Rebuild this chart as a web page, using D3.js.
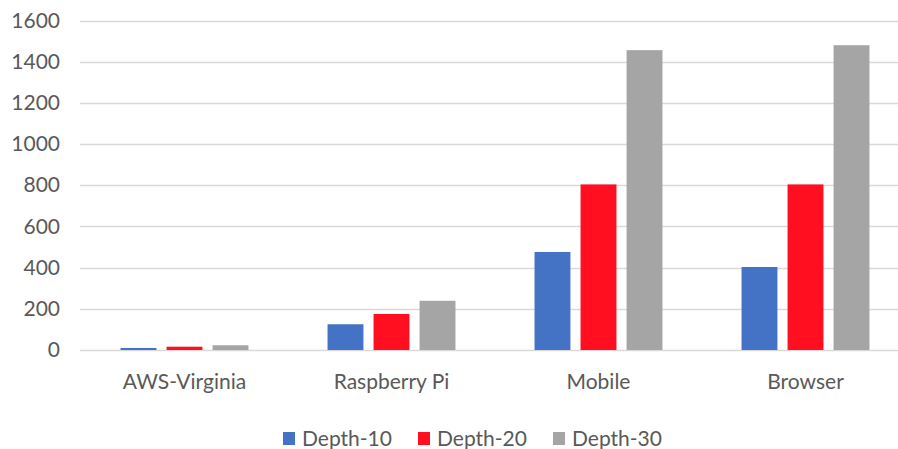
<!DOCTYPE html>
<html>
<head>
<meta charset="utf-8">
<script src="https://cdn.jsdelivr.net/npm/d3@7"></script>
<style>
  body { margin: 0; background: #fff; }
  svg { display: block; font-family: Lato, "Open Sans", sans-serif; }
</style>
</head>
<body>
<div id="chart"></div>
<script>
// data
var categories = ["AWS-Virginia", "Raspberry Pi", "Mobile", "Browser"];
var seriesNames = ["Depth-10", "Depth-20", "Depth-30"];
var depth10 = [10, 125, 476, 403];
var depth20 = [16, 175, 804, 804];
var depth30 = [23, 239, 1456, 1480];
var yTicks = [0, 200, 400, 600, 800, 1000, 1200, 1400, 1600];
var colors = ["#4472C4", "#FF0F1F", "#A5A5A5"];

var W = 898, H = 449;
var seriesValues = [depth10, depth20, depth30];

var svg = d3.select("#chart").append("svg")
    .attr("width", W)
    .attr("height", H);

// scales
var x0 = d3.scaleBand().domain(categories).range([81, 909])
    .paddingInner(0.382).paddingOuter(0.191);
var x1 = d3.scaleBand().domain(seriesNames).range([0, x0.bandwidth()])
    .paddingInner(0.22);
var y = d3.scaleLinear().domain([0, 1600]).range([350, 20.5]);

// gridlines
svg.append("g").selectAll("line")
    .data(yTicks)
    .join("line")
    .attr("x1", 80).attr("x2", W)
    .attr("y1", function(d) { return Math.round(y(d)) + 0.5; })
    .attr("y2", function(d) { return Math.round(y(d)) + 0.5; })
    .attr("stroke", "#D9D9D9")
    .attr("stroke-width", 1.3);

// y axis labels
var yAxis = d3.axisLeft(y).tickValues(yTicks).tickFormat(d3.format("d"))
    .tickSize(0).tickPadding(0);
var yg = svg.append("g").attr("transform", "translate(60,0)").call(yAxis);
yg.select(".domain").remove();
yg.selectAll("text")
    .attr("fill", "#595959")
    .style("font-size", "21px")
    .style("font-family", "Lato, 'Open Sans', sans-serif");

// bars
var groups = svg.append("g").selectAll("g")
    .data(categories)
    .join("g")
    .attr("transform", function(d) { return "translate(" + x0(d) + ",0)"; });

groups.selectAll("rect")
    .data(function(d, i) {
        return seriesNames.map(function(s, j) {
            return { name: s, value: seriesValues[j][i], color: colors[j] };
        });
    })
    .join("rect")
    .attr("x", function(d) { return x1(d.name); })
    .attr("y", function(d) { return y(d.value); })
    .attr("width", x1.bandwidth())
    .attr("height", function(d) { return y(0) - y(d.value); })
    .attr("fill", function(d) { return d.color; });

// category labels
var xAxis = d3.axisBottom(x0).tickSize(0).tickPadding(0);
var xg = svg.append("g").attr("transform", "translate(0,389)").call(xAxis);
xg.select(".domain").remove();
xg.selectAll("text")
    .attr("dy", 0)
    .attr("fill", "#595959")
    .style("font-size", "21px")
    .style("font-family", "Lato, 'Open Sans', sans-serif");

// legend
var legendX = [283, 418, 553];
var legend = svg.append("g").selectAll("g")
    .data(seriesNames)
    .join("g")
    .attr("transform", function(d, i) { return "translate(" + legendX[i] + ",0)"; });

legend.append("rect")
    .attr("x", 0).attr("y", 432)
    .attr("width", 12).attr("height", 13)
    .attr("fill", function(d, i) { return colors[i]; });

legend.append("text")
    .attr("x", 19).attr("y", 446)
    .attr("fill", "#595959")
    .style("font-size", "21px")
    .text(function(d) { return d; });
</script>
</body>
</html>
